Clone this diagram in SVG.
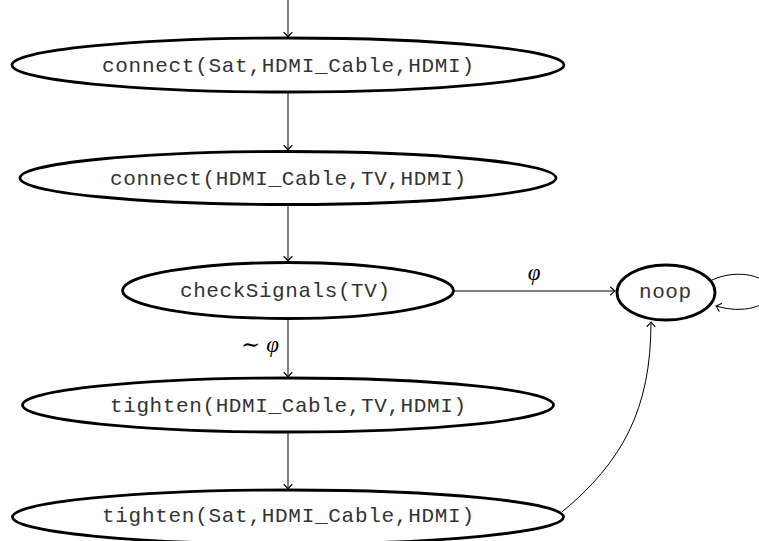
<svg xmlns="http://www.w3.org/2000/svg" width="759" height="541" viewBox="0 0 759 541">
<style>
.node ellipse{fill:#fff;stroke:#000;stroke-width:2.8}
.lbl{font-family:"Liberation Mono","DejaVu Sans Mono",monospace;font-size:21px;fill:#333;text-anchor:middle}
.edge{fill:none;stroke:#000;stroke-width:1}
.math{font-family:"Liberation Serif","DejaVu Serif",serif;font-size:23px;fill:#000}
</style>
<defs>
<marker id="arr" markerUnits="userSpaceOnUse" markerWidth="12" markerHeight="12" refX="0" refY="0" viewBox="-6 -6 12 12" orient="auto">
<path d="M-4.5,-4 Q-1.2,-0.8 0,0 Q-1.2,0.8 -4.5,4" fill="none" stroke="#000" stroke-width="1.1" stroke-linecap="round"/>
</marker>
</defs>
<g id="edges">
<path class="edge" d="M288,0 L288,37" marker-end="url(#arr)"/>
<path class="edge" d="M288,92 L288,150" marker-end="url(#arr)"/>
<path class="edge" d="M288,205 L288,261" marker-end="url(#arr)"/>
<path class="edge" d="M288,319 L288,377" marker-end="url(#arr)"/>
<path class="edge" d="M288,432 L288,489" marker-end="url(#arr)"/>
<path class="edge" d="M454,291 L615,291" marker-end="url(#arr)"/>
<path class="edge" d="M712,280 C738,268 770,276 770,292 C770,307 742,314 716,306" marker-end="url(#arr)"/>
<path class="edge" d="M562,512 C622,462 651,410 651,322" marker-end="url(#arr)"/>
<text class="math" x="534" y="280" text-anchor="middle" font-style="italic">φ</text>
<text class="math" x="260" y="352" text-anchor="middle"><tspan>∼</tspan> <tspan font-style="italic">φ</tspan></text>
</g>
<g id="n1" class="node">
<ellipse cx="288" cy="65" rx="276" ry="27"/>
<text class="lbl" x="288" y="72" textLength="372" lengthAdjust="spacing">connect(Sat,HDMI_Cable,HDMI)</text>
</g>
<g id="n2" class="node">
<ellipse cx="288" cy="178" rx="268" ry="26.5"/>
<text class="lbl" x="288" y="185" textLength="356" lengthAdjust="spacing">connect(HDMI_Cable,TV,HDMI)</text>
</g>
<g id="n3" class="node">
<ellipse cx="288" cy="290.5" rx="165.5" ry="28"/>
<text class="lbl" x="285" y="297" textLength="210" lengthAdjust="spacing">checkSignals(TV)</text>
</g>
<g id="n4" class="node">
<ellipse cx="288" cy="405" rx="265.5" ry="27"/>
<text class="lbl" x="288" y="412" textLength="356" lengthAdjust="spacing">tighten(HDMI_Cable,TV,HDMI)</text>
</g>
<g id="n5" class="node">
<ellipse cx="288" cy="517" rx="275.5" ry="27"/>
<text class="lbl" x="288" y="522" textLength="372" lengthAdjust="spacing">tighten(Sat,HDMI_Cable,HDMI)</text>
</g>
<g id="noop" class="node">
<ellipse cx="666" cy="292.5" rx="49" ry="27.5"/>
<text class="lbl" x="665" y="298" textLength="52" lengthAdjust="spacing">noop</text>
</g>
</svg>
